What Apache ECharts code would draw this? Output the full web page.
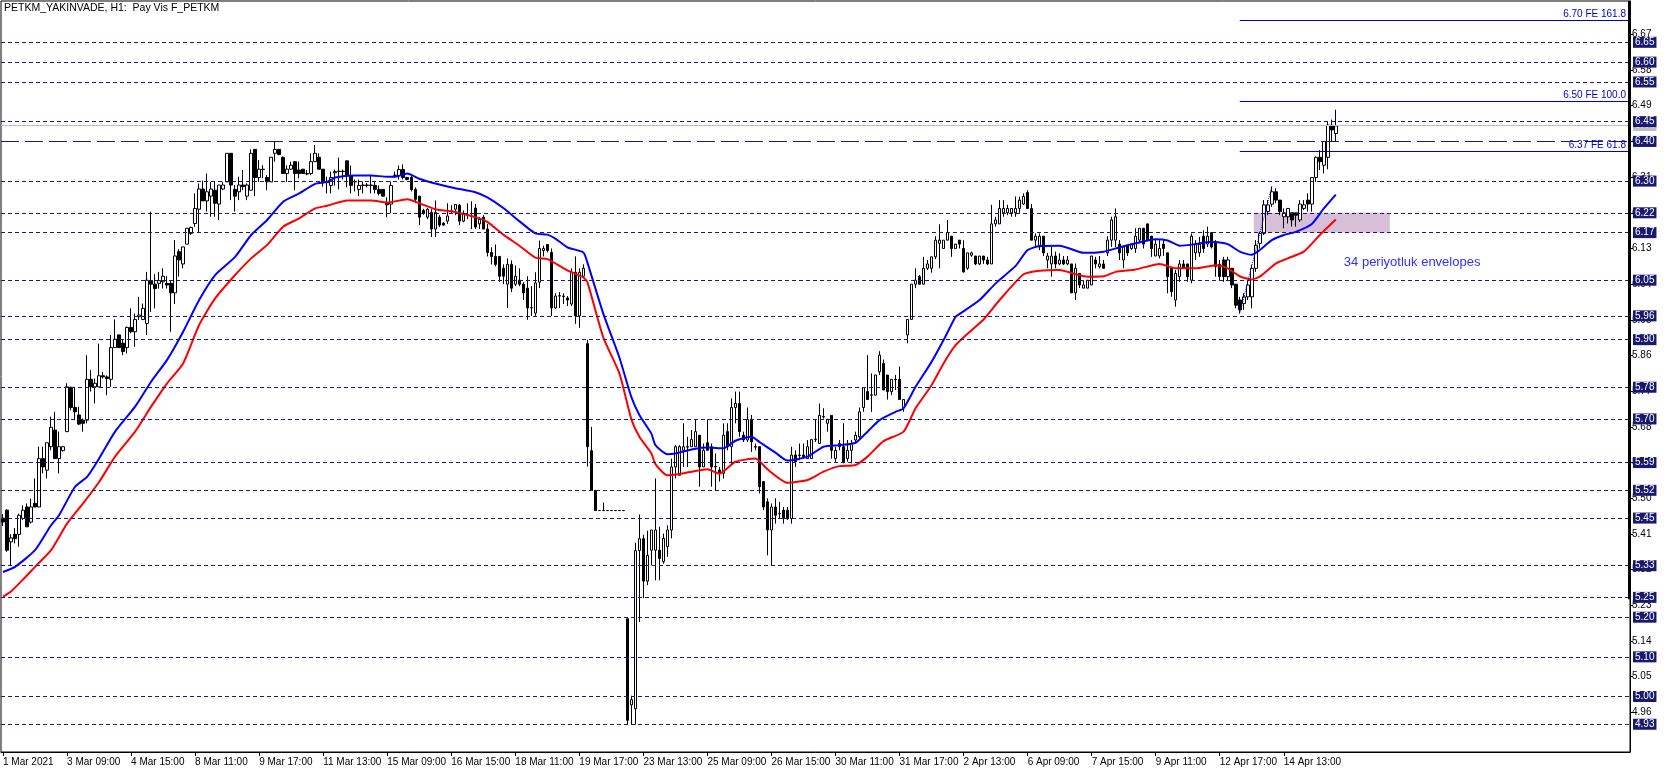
<!DOCTYPE html>
<html><head><meta charset="utf-8">
<script src="https://cdn.jsdelivr.net/npm/echarts@6/dist/echarts.min.js"></script>
<style>html,body{margin:0;padding:0;background:#fff}#c{width:1670px;height:773px}</style>
</head><body><div id="c"></div>
<script>
const chartTitle = 'PETKM_YAKINVADE, H1:  Pay Vis F_PETKM';
const noteText = '34 periyotluk envelopes';
const tickLabels = ['1 Mar 2021','3 Mar 09:00','4 Mar 15:00','8 Mar 11:00','9 Mar 17:00','11 Mar 13:00','15 Mar 09:00','16 Mar 15:00','18 Mar 11:00','19 Mar 17:00','23 Mar 13:00','25 Mar 09:00','26 Mar 15:00','30 Mar 11:00','31 Mar 17:00','2 Apr 13:00','6 Apr 09:00','7 Apr 15:00','9 Apr 11:00','12 Apr 17:00','14 Apr 13:00'];
const barsPerLabel = 16;
const slotCount = 407;
const priceTicks = [4.96,5.05,5.14,5.23,5.32,5.41,5.50,5.59,5.68,5.77,5.86,5.95,6.04,6.13,6.22,6.31,6.40,6.49,6.58,6.67];
const levelLines = [6.65,6.60,6.55,6.45,6.30,6.22,6.17,6.05,5.96,5.90,5.78,5.70,5.59,5.52,5.45,5.33,5.25,5.20,5.10,5.00,4.93];
const keyLevel = 6.40;
const bidPrice = 6.439;
const feValues = [6.705, 6.502, 6.376];
const feLabels = ['6.70 FE 161.8', '6.50 FE 100.0', '6.37 FE 61.8'];
const feStartBar = 309;
const zoneBars = [313, 347];
const zonePrices = [6.17, 6.22];
const trendBars = [309, 317];
const trendPrices = [5.966, 6.287];
const notePos = [335, 6.09];
// [open, close, low, high]
const ohlc = [
[5.45,5.44,5.43,5.46],[5.470,5.369,5.365,5.472],[5.390,5.400,5.331,5.409],[5.409,5.398,5.386,5.425],[5.409,5.457,5.378,5.461],
[5.449,5.470,5.445,5.482],[5.478,5.428,5.428,5.487],[5.440,5.478,5.436,5.499],[5.487,5.478,5.478,5.550],[5.478,5.600,5.478,5.630],
[5.600,5.579,5.563,5.630],[5.571,5.640,5.550,5.640],[5.630,5.679,5.621,5.706],[5.672,5.600,5.600,5.718],[5.600,5.630,5.563,5.668],
[5.620,5.630,5.618,5.632],[5.668,5.781,5.668,5.790],[5.780,5.729,5.722,5.781],[5.729,5.718,5.697,5.781],[5.710,5.687,5.685,5.731],
[5.697,5.689,5.668,5.701],[5.697,5.800,5.689,5.861],[5.800,5.781,5.769,5.823],[5.781,5.790,5.739,5.802],[5.781,5.809,5.781,5.890],
[5.809,5.806,5.802,5.819],[5.806,5.802,5.760,5.810],[5.800,5.880,5.781,5.912],[5.880,5.901,5.880,5.951],[5.912,5.880,5.880,5.912],
[5.891,5.870,5.861,5.899],[5.880,5.931,5.865,5.933],[5.931,5.920,5.916,5.979],[5.920,5.951,5.882,5.966],[5.958,5.962,5.950,6.008],
[5.951,5.979,5.949,5.991],[5.941,6.050,5.912,6.071],[6.049,6.040,5.970,6.223],[6.040,6.029,5.979,6.065],[6.042,6.049,6.029,6.071],
[6.046,6.060,6.029,6.080],[6.042,6.038,6.029,6.060],[6.042,6.018,5.920,6.050],[6.018,6.111,5.990,6.151],[6.122,6.101,6.059,6.128],
[6.091,6.134,6.080,6.134],[6.141,6.181,6.141,6.181],[6.168,6.183,6.164,6.185],[6.193,6.231,6.185,6.269],[6.229,6.280,6.170,6.294],
[6.280,6.250,6.250,6.301],[6.250,6.273,6.223,6.319],[6.262,6.280,6.210,6.298],[6.277,6.244,6.210,6.298],[6.242,6.290,6.202,6.290],
[6.280,6.290,6.277,6.298],[6.298,6.370,6.298,6.370],[6.370,6.290,6.252,6.370],[6.279,6.262,6.223,6.290],[6.273,6.290,6.252,6.311],
[6.290,6.286,6.277,6.328],[6.262,6.290,6.252,6.294],[6.277,6.370,6.277,6.380],[6.380,6.309,6.262,6.380],[6.309,6.330,6.298,6.353],
[6.330,6.329,6.307,6.340],[6.309,6.298,6.277,6.315],[6.298,6.360,6.298,6.360],[6.370,6.380,6.349,6.399],[6.380,6.367,6.365,6.380],
[6.360,6.319,6.319,6.362],[6.319,6.330,6.298,6.340],[6.330,6.340,6.328,6.349],[6.349,6.319,6.277,6.349],[6.328,6.319,6.307,6.349],
[6.330,6.319,6.319,6.330],[6.319,6.318,6.315,6.328],[6.319,6.349,6.315,6.370],[6.349,6.370,6.349,6.391],[6.360,6.330,6.330,6.370],
[6.330,6.298,6.286,6.330],[6.298,6.296,6.269,6.311],[6.289,6.309,6.269,6.324],[6.321,6.324,6.289,6.329],[6.324,6.325,6.279,6.359],
[6.325,6.324,6.304,6.329],[6.351,6.314,6.284,6.351],[6.314,6.289,6.269,6.339],[6.299,6.298,6.274,6.304],[6.279,6.289,6.262,6.304],
[6.289,6.290,6.269,6.299],[6.290,6.289,6.284,6.295],[6.289,6.290,6.269,6.314],[6.289,6.279,6.269,6.299],[6.279,6.269,6.264,6.289],
[6.279,6.262,6.262,6.279],[6.244,6.240,6.209,6.259],[6.242,6.289,6.219,6.299],[6.314,6.315,6.309,6.324],[6.314,6.329,6.304,6.339],
[6.329,6.309,6.304,6.342],[6.309,6.304,6.302,6.311],[6.309,6.279,6.274,6.314],[6.279,6.254,6.244,6.284],[6.262,6.209,6.189,6.262],
[6.226,6.219,6.215,6.230],[6.209,6.229,6.204,6.232],[6.221,6.179,6.159,6.229],[6.179,6.221,6.159,6.251],[6.209,6.189,6.184,6.214],
[6.194,6.189,6.187,6.196],[6.199,6.212,6.192,6.244],[6.224,6.225,6.219,6.239],[6.229,6.241,6.214,6.242],[6.239,6.199,6.189,6.242],
[6.199,6.219,6.196,6.226],[6.214,6.215,6.204,6.244],[6.212,6.211,6.179,6.249],[6.232,6.184,6.179,6.242],[6.192,6.204,6.179,6.209],
[6.209,6.179,6.179,6.214],[6.179,6.120,6.110,6.192],[6.120,6.110,6.090,6.133],[6.110,6.090,6.085,6.140],[6.110,6.060,6.045,6.110],
[6.080,6.060,6.040,6.090],[6.040,6.090,5.980,6.105],[6.090,6.030,6.020,6.100],[6.040,6.060,6.035,6.087],[6.050,6.040,6.035,6.080],
[6.040,6.018,6.000,6.045],[6.030,5.980,5.950,6.060],[5.980,5.981,5.960,6.035],[5.967,6.043,5.960,6.070],[6.045,6.130,6.030,6.150],
[6.125,6.130,6.110,6.137],[6.140,6.125,6.120,6.140],[6.120,5.980,5.960,6.130],[5.980,6.010,5.977,6.017],[6.010,6.011,5.980,6.020],
[6.010,6.009,5.990,6.017],[6.005,6.000,5.985,6.010],[5.990,6.070,5.985,6.080],[6.070,5.960,5.940,6.110],[5.960,6.070,5.930,6.080],
[6.060,6.080,6.057,6.090],[5.890,5.630,5.580,5.900],[5.620,5.520,5.520,5.680],[5.520,5.469,5.469,5.520],[5.469,5.469,5.469,5.469],
[5.469,5.469,5.469,5.489],[5.469,5.469,5.469,5.469],[5.469,5.469,5.469,5.469],[5.469,5.469,5.469,5.469],[5.469,5.469,5.469,5.469],
[5.469,5.469,5.469,5.469],[5.196,4.940,4.929,5.196],[4.979,4.992,4.929,5.002],[4.969,5.368,4.929,5.388],[5.368,5.398,5.188,5.459],
[5.398,5.291,5.248,5.408],[5.291,5.356,5.281,5.418],[5.369,5.420,5.331,5.420],[5.369,5.420,5.293,5.550],[5.369,5.348,5.293,5.428],
[5.340,5.399,5.335,5.411],[5.378,5.420,5.352,5.432],[5.420,5.579,5.399,5.600],[5.579,5.630,5.550,5.634],[5.558,5.630,5.558,5.634],
[5.621,5.630,5.579,5.689],[5.630,5.629,5.579,5.655],[5.630,5.648,5.630,5.672],[5.630,5.668,5.630,5.699],[5.659,5.579,5.529,5.659],
[5.579,5.621,5.579,5.638],[5.640,5.621,5.621,5.699],[5.630,5.579,5.529,5.638],[5.580,5.579,5.520,5.613],[5.571,5.563,5.542,5.579],
[5.563,5.659,5.550,5.689],[5.668,5.630,5.621,5.689],[5.630,5.729,5.584,5.752],[5.729,5.739,5.689,5.769],[5.739,5.668,5.655,5.769],
[5.659,5.647,5.642,5.668],[5.647,5.699,5.642,5.729],[5.699,5.642,5.617,5.710],[5.630,5.629,5.621,5.638],[5.630,5.529,5.512,5.630],
[5.542,5.478,5.470,5.542],[5.491,5.420,5.356,5.500],[5.420,5.478,5.331,5.487],[5.478,5.457,5.436,5.500],[5.462,5.461,5.449,5.491],
[5.470,5.449,5.436,5.478],[5.470,5.449,5.445,5.478],[5.449,5.609,5.436,5.630],[5.609,5.592,5.579,5.621],[5.609,5.608,5.596,5.638],
[5.609,5.605,5.600,5.638],[5.600,5.630,5.600,5.647],[5.600,5.648,5.600,5.648],[5.648,5.649,5.642,5.699],[5.638,5.709,5.638,5.739],
[5.706,5.705,5.701,5.727],[5.689,5.699,5.668,5.699],[5.709,5.621,5.600,5.709],[5.600,5.621,5.592,5.630],[5.630,5.638,5.621,5.647],
[5.630,5.592,5.588,5.689],[5.600,5.621,5.592,5.647],[5.621,5.638,5.588,5.647],[5.647,5.659,5.642,5.668],[5.655,5.718,5.647,5.729],
[5.729,5.779,5.718,5.779],[5.769,5.749,5.749,5.861],[5.760,5.761,5.718,5.815],[5.760,5.811,5.760,5.811],[5.819,5.861,5.811,5.871],
[5.840,5.773,5.773,5.850],[5.811,5.769,5.749,5.811],[5.769,5.800,5.760,5.800],[5.800,5.799,5.773,5.811],[5.800,5.749,5.749,5.832],
[5.729,5.749,5.718,5.749],[5.912,5.951,5.891,5.951],[5.951,6.040,5.951,6.040],[6.040,6.050,6.030,6.080],[6.059,6.040,6.040,6.063],
[6.040,6.080,6.040,6.109],[6.080,6.091,6.076,6.101],[6.080,6.109,6.069,6.109],[6.109,6.151,6.103,6.161],[6.143,6.151,6.080,6.191],
[6.130,6.151,6.130,6.151],[6.151,6.170,6.151,6.202],[6.161,6.130,6.109,6.161],[6.130,6.141,6.130,6.141],[6.151,6.141,6.130,6.151],
[6.130,6.071,6.069,6.151],[6.080,6.119,6.076,6.119],[6.113,6.119,6.109,6.122],[6.111,6.091,6.088,6.111],[6.091,6.111,6.088,6.111],
[6.111,6.101,6.091,6.111],[6.101,6.091,6.088,6.109],[6.091,6.192,6.091,6.240],[6.192,6.202,6.185,6.210],[6.192,6.231,6.192,6.252],
[6.220,6.231,6.210,6.252],[6.220,6.231,6.214,6.240],[6.220,6.231,6.210,6.231],[6.220,6.231,6.210,6.261],[6.231,6.252,6.220,6.261],
[6.242,6.261,6.240,6.269],[6.271,6.231,6.231,6.277],[6.231,6.151,6.151,6.242],[6.151,6.161,6.134,6.168],[6.134,6.161,6.126,6.168],
[6.161,6.119,6.111,6.161],[6.101,6.111,6.080,6.119],[6.091,6.111,6.059,6.134],[6.111,6.091,6.080,6.122],[6.091,6.101,6.088,6.118],
[6.101,6.091,6.088,6.111],[6.091,6.101,6.088,6.111],[6.091,6.018,6.018,6.091],[6.018,6.080,6.000,6.092],[6.067,6.038,6.030,6.067],
[6.030,6.038,6.030,6.050],[6.030,6.050,6.030,6.050],[6.038,6.111,6.038,6.111],[6.101,6.091,6.080,6.109],[6.084,6.091,6.080,6.111],
[6.091,6.080,6.080,6.101],[6.119,6.151,6.111,6.161],[6.151,6.202,6.134,6.210],[6.151,6.210,6.134,6.231],[6.141,6.119,6.101,6.151],
[6.101,6.134,6.080,6.134],[6.138,6.119,6.111,6.138],[6.130,6.141,6.126,6.141],[6.130,6.161,6.119,6.181],[6.151,6.181,6.143,6.181],
[6.181,6.141,6.130,6.181],[6.192,6.151,6.151,6.192],[6.161,6.130,6.109,6.161],[6.111,6.141,6.111,6.151],[6.111,6.130,6.105,6.151],
[6.141,6.130,6.111,6.151],[6.119,6.059,6.017,6.119],[6.080,6.021,6.008,6.080],[6.000,6.067,5.983,6.076],[6.059,6.091,6.046,6.101],
[6.091,6.080,6.080,6.101],[6.091,6.059,6.046,6.091],[6.050,6.161,6.042,6.168],[6.119,6.141,6.101,6.151],[6.119,6.141,6.109,6.159],
[6.161,6.130,6.119,6.176],[6.141,6.161,6.134,6.185],[6.170,6.134,6.130,6.170],[6.147,6.084,6.059,6.151],[6.090,6.059,6.050,6.101],
[6.101,6.059,6.046,6.109],[6.059,6.101,6.050,6.109],[6.080,6.038,6.030,6.080],[6.040,5.987,5.979,6.040],[6.000,5.975,5.966,6.008],
[5.991,6.008,5.975,6.017],[6.008,6.038,6.000,6.050],[6.008,6.080,5.979,6.088],[6.080,6.138,6.071,6.151],[6.143,6.168,6.130,6.172],
[6.168,6.240,6.164,6.252],[6.223,6.240,6.214,6.252],[6.242,6.273,6.235,6.286],[6.273,6.252,6.244,6.282],[6.252,6.223,6.214,6.252],
[6.210,6.220,6.181,6.231],[6.210,6.231,6.193,6.231],[6.220,6.202,6.185,6.220],[6.220,6.214,6.185,6.220],[6.202,6.242,6.197,6.252],
[6.231,6.240,6.227,6.252],[6.252,6.242,6.223,6.269],[6.242,6.309,6.223,6.309],[6.309,6.360,6.298,6.362],[6.360,6.349,6.328,6.378],
[6.340,6.400,6.319,6.400],[6.360,6.441,6.330,6.450],[6.441,6.429,6.400,6.455],[6.420,6.439,6.400,6.480]
];
// envelope readings [bar, price]
const upperEnv = [[0,5.314],[3,5.327],[8,5.369],[12,5.432],[14,5.457],[18,5.529],[21,5.554],[24,5.600],[28,5.668],[33,5.731],[37,5.794],[41,5.849],[45,5.920],[49,6.000],[53,6.063],[58,6.109],[62,6.164],[66,6.202],[70,6.248],[74,6.269],[78,6.293],[81,6.298],[83,6.309],[88,6.314],[92,6.314],[96,6.311],[98,6.311],[101,6.319],[104,6.306],[108,6.294],[113,6.282],[118,6.272],[121,6.259],[125,6.232],[129,6.199],[133,6.168],[136,6.165],[138,6.155],[141,6.133],[145,6.120],[146,6.095],[150,5.965],[154,5.855],[157,5.755],[159,5.710],[162,5.663],[163,5.634],[166,5.611],[168,5.613],[173,5.625],[176,5.628],[180,5.626],[183,5.645],[187,5.655],[189,5.642],[193,5.615],[196,5.595],[201,5.605],[205,5.630],[209,5.634],[213,5.640],[216,5.668],[219,5.697],[223,5.718],[225,5.727],[228,5.781],[232,5.844],[235,5.899],[238,5.958],[239,5.965],[244,6.000],[248,6.042],[253,6.086],[256,6.126],[259,6.136],[264,6.137],[270,6.119],[275,6.122],[279,6.133],[283,6.143],[288,6.153],[291,6.150],[294,6.137],[298,6.141],[302,6.147],[306,6.141],[309,6.122],[312,6.114],[314,6.126],[317,6.151],[320,6.164],[323,6.172],[327,6.192],[330,6.231],[333,6.266]];
const lowerEnv = [[0,5.252],[2,5.265],[5,5.295],[8,5.327],[12,5.369],[16,5.436],[20,5.487],[24,5.541],[28,5.605],[33,5.668],[37,5.731],[41,5.790],[45,5.840],[49,5.937],[53,6.004],[58,6.063],[62,6.105],[66,6.139],[70,6.185],[74,6.206],[78,6.231],[81,6.238],[86,6.251],[92,6.251],[96,6.246],[101,6.254],[104,6.244],[108,6.229],[113,6.222],[119,6.206],[121,6.197],[125,6.165],[129,6.137],[133,6.107],[136,6.103],[141,6.075],[145,6.057],[146,6.045],[150,5.905],[154,5.815],[157,5.699],[159,5.655],[162,5.613],[163,5.586],[166,5.558],[169,5.561],[173,5.569],[176,5.573],[179,5.562],[183,5.592],[188,5.600],[191,5.573],[196,5.539],[201,5.546],[205,5.567],[209,5.581],[213,5.584],[216,5.605],[220,5.644],[225,5.668],[228,5.727],[232,5.785],[235,5.840],[238,5.886],[242,5.924],[245,5.951],[249,6.000],[255,6.065],[259,6.074],[264,6.076],[268,6.065],[271,6.059],[275,6.060],[278,6.071],[283,6.077],[289,6.091],[293,6.080],[298,6.080],[303,6.088],[306,6.080],[309,6.060],[312,6.052],[314,6.059],[318,6.092],[321,6.105],[325,6.122],[329,6.164],[333,6.203]];

const NAVY = '#191970';
const FONT = 'Liberation Sans';
const cats = Array.from({length: slotCount}, (_, i) => String(i));
const isTick = i => i % barsPerLabel === 0 && i / barsPerLabel < tickLabels.length;

const chart = echarts.init(document.getElementById('c'), null, {renderer: 'canvas'});
const option = {
  animation: false,
  backgroundColor: '#fff',
  textStyle: {fontFamily: FONT},
  grid: {left: 1, right: 40, top: 1, bottom: 21, show: true, borderColor: '#000', borderWidth: 1, containLabel: false, outerBoundsMode: 'none'},
  xAxis: {
    type: 'category', data: cats, boundaryGap: true,
    axisLine: {show: true, lineStyle: {color: '#000', width: 1}},
    axisTick: {show: true, alignWithLabel: true, interval: isTick, length: 4, lineStyle: {color: '#000'}},
    axisLabel: {show: true, interval: isTick, formatter: (v, i) => tickLabels[Math.round(i / barsPerLabel)] || '', align: 'left', margin: 5, fontSize: 10, color: '#000', fontFamily: FONT},
    splitLine: {show: false}
  },
  yAxis: {
    type: 'value', position: 'right', min: 4.860, max: 6.7542,
    axisLine: {show: true, onZero: false, lineStyle: {color: '#000', width: 1}},
    axisTick: {show: true, length: 3, customValues: priceTicks, lineStyle: {color: '#000'}},
    axisLabel: {show: true, customValues: priceTicks, formatter: v => Number(v).toFixed(2), margin: 2, fontSize: 10, color: '#000', fontFamily: FONT},
    splitLine: {show: false}
  },
  title: {text: chartTitle, left: 4, top: 3, padding: 0, textStyle: {fontSize: 10.5, fontWeight: 'normal', color: '#000', fontFamily: FONT}},
  series: [
    {
      type: 'line', data: [], z: 1, silent: true,
      markLine: {symbol: ['none', 'none'], silent: true,
        lineStyle: {color: '#c0c0c0', type: 'solid', width: 1},
        label: {show: true, position: 'end', distance: 3, formatter: p => Number(p.value).toFixed(2), backgroundColor: '#c0c0c0', color: '#fff', fontSize: 10, padding: [1, 2, 0, 2], fontFamily: FONT},
        data: [{yAxis: bidPrice}]}
    },
    {
      type: 'line', data: [], z: 2, silent: true,
      markLine: {symbol: ['none', 'none'], silent: true,
        lineStyle: {color: NAVY, type: [4, 3], width: 1},
        label: {show: true, position: 'end', distance: 3, formatter: p => Number(p.value).toFixed(2), backgroundColor: NAVY, color: '#fff', fontSize: 10, padding: [1, 2, 0, 2], fontFamily: FONT},
        data: levelLines.map(v => ({yAxis: v})).concat([{yAxis: keyLevel, lineStyle: {type: [18, 6]}}])}
    },
    {
      type: 'line', data: [], z: 2, silent: true,
      markLine: {symbol: ['none', 'none'], silent: true,
        lineStyle: {color: '#0000cd', type: 'solid', width: 1},
        label: {show: true, position: 'insideEndTop', distance: [2, 1], color: '#0000cd', fontSize: 10, fontFamily: FONT},
        data: feValues.map((v, k) => [{coord: [feStartBar, v], label: {formatter: feLabels[k]}}, {coord: [slotCount - 1, v]}])
          .concat([[{coord: [trendBars[0], trendPrices[0]], lineStyle: {type: 'dotted', color: '#0000ff'}, label: {show: false}}, {coord: [trendBars[1], trendPrices[1]]}]])}
    },
    {
      type: 'candlestick', data: ohlc, z: 3, barWidth: 3,
      itemStyle: {color: '#ffffff', color0: '#000000', borderColor: '#000000', borderColor0: '#000000', borderWidth: 1}
    },
    {type: 'line', data: upperEnv, z: 4, symbol: 'none', smooth: 0.2, lineStyle: {color: '#0000ff', width: 2}},
    {type: 'line', data: lowerEnv, z: 4, symbol: 'none', smooth: 0.2, lineStyle: {color: '#ff0000', width: 2}}
  ]
};
chart.setOption(option);
// decorations positioned through the chart's own scales
const toPx = (bar, price) => chart.convertToPixel({xAxisIndex: 0, yAxisIndex: 0}, [bar, price]);
const zA = toPx(zoneBars[0], zonePrices[1]);
const zB = toPx(zoneBars[1], zonePrices[0]);
const pNote = toPx(notePos[0], notePos[1]);
const pBot = chart.convertToPixel({yAxisIndex: 0}, 5.245);
const rect = chart.getModel().getComponent('grid').coordinateSystem.getRect();
chart.setOption({graphic: [
  {type: 'rect', shape: {x: zA[0] - 2, y: zA[1], width: zB[0] - zA[0], height: zB[1] - zA[1]}, style: {fill: '#d8bfd8'}, z: 0, zlevel: 0, silent: true},
  {type: 'text', left: pNote[0], top: pNote[1] - 8, style: {text: noteText, fill: '#3030ff', font: '13px "Liberation Sans"'}, z: 10},
  {type: 'rect', shape: {x: rect.x + rect.width - 2, y: rect.y, width: 3, height: pBot - rect.y}, style: {fill: '#000'}, z: 10}
]});
</script>
</body></html>
